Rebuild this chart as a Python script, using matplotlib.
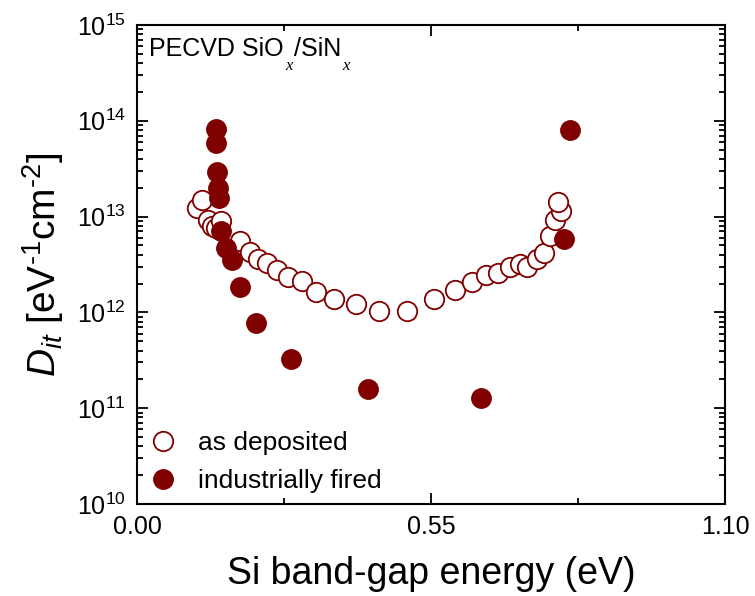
import matplotlib
matplotlib.use("Agg")
import matplotlib.pyplot as plt
from matplotlib.ticker import LogLocator, NullFormatter, FixedLocator, FuncFormatter

plt.rcParams['font.family'] = ['Liberation Sans', 'DejaVu Sans']
plt.rcParams['mathtext.fontset'] = 'custom'
plt.rcParams['mathtext.rm'] = 'Liberation Sans'
plt.rcParams['mathtext.it'] = 'Liberation Sans:italic'

# as deposited (open circles)
dep_E = [0.112, 0.121, 0.133, 0.140, 0.147, 0.158, 0.193, 0.211, 0.227, 0.243, 0.261,
         0.283, 0.308, 0.335, 0.369, 0.409, 0.453, 0.505, 0.556, 0.595, 0.626, 0.652,
         0.675, 0.698, 0.717, 0.730, 0.748, 0.761, 0.773, 0.782, 0.793, 0.788]
dep_D = [1.22e13, 1.49e13, 9.2e12, 8.0e12, 7.6e12, 8.9e12, 5.5e12, 4.3e12, 3.6e12, 3.25e12, 2.8e12,
         2.32e12, 2.14e12, 1.62e12, 1.37e12, 1.22e12, 1.035e12, 1.035e12, 1.38e12, 1.71e12, 2.09e12, 2.43e12,
         2.58e12, 3.0e12, 3.2e12, 3.0e12, 3.58e12, 4.14e12, 6.2e12, 9.2e12, 1.14e13, 1.41e13]

# industrially fired (filled circles)
fir_E = [0.148, 0.148, 0.150, 0.152, 0.154, 0.158, 0.1665, 0.177, 0.193, 0.223,
         0.288, 0.432, 0.644, 0.799, 0.810]
fir_D = [8.2e13, 5.8e13, 2.9e13, 1.97e13, 1.55e13, 7.0e12, 4.7e12, 3.5e12, 1.85e12, 7.8e11,
         3.3e11, 1.6e11, 1.28e11, 5.9e12, 8.1e13]

x_ticks = [0.00, 0.55, 1.10]
color = '#800000'

fig = plt.figure(figsize=(7.55, 5.96), dpi=100)
ax = fig.add_axes([137/755, 1-504/596, (725-137)/755, (504-25)/596])

ax.plot(dep_E, dep_D, 'o', ms=14, mfc='white', mec=color, mew=1.3, ls='none', label='as deposited')
ax.plot(fir_E, fir_D, 'o', ms=14, mfc=color, mec=color, mew=1.0, ls='none', label='industrially fired')

ax.set_yscale('log')
ax.set_xlim(0, 1.10)
ax.set_ylim(1e10, 1e15)
ax.xaxis.set_major_locator(FixedLocator(x_ticks))
ax.xaxis.set_minor_locator(FixedLocator([0.275, 0.825]))
ax.xaxis.set_major_formatter(FuncFormatter(lambda v, p: f"{v:.2f}"))
ax.yaxis.set_major_locator(LogLocator(base=10, numticks=10))
ax.yaxis.set_minor_locator(LogLocator(base=10, subs=range(2, 10), numticks=20))
ax.yaxis.set_minor_formatter(NullFormatter())

ax.tick_params(which='both', direction='in', top=True, right=True, width=1.3, labelsize=18)
ax.tick_params(which='major', length=8, pad=8)
ax.tick_params(which='minor', length=4.5)
for s in ax.spines.values():
    s.set_linewidth(1.5)

ax.set_xlabel('Si band-gap energy (eV)', fontsize=27, labelpad=12)
ax.set_ylabel(r'$D_{it}$ [eV$^{\text{-}1}$cm$^{\text{-}2}$]', fontsize=28, labelpad=8)

# "PECVD SiO_x/SiN_x" with low serif-italic subscripts
t1 = ax.text(0.02, 0.975, 'PECVD SiO', transform=ax.transAxes, fontsize=18,
             va='top', ha='left')
sub_kw = dict(fontsize=12, family='Liberation Serif', style='italic', va='top', ha='left',
              textcoords='offset points')
t2 = ax.annotate('x', xy=(1, 0), xycoords=t1, xytext=(1, 2.5), **sub_kw)
t3 = ax.annotate('/SiN', xy=(1, 1), xycoords=(t2, t1), xytext=(1, 0),
                 textcoords='offset points', fontsize=18, va='top', ha='left')
t4 = ax.annotate('x', xy=(1, 0), xycoords=t3, xytext=(1, 2.5), **sub_kw)

leg = ax.legend(loc='lower left', frameon=False, fontsize=19, handletextpad=0.7,
                labelspacing=0.55, borderaxespad=0.0, borderpad=0.4, handlelength=1.2)

fig.savefig('out.png', dpi=100)
